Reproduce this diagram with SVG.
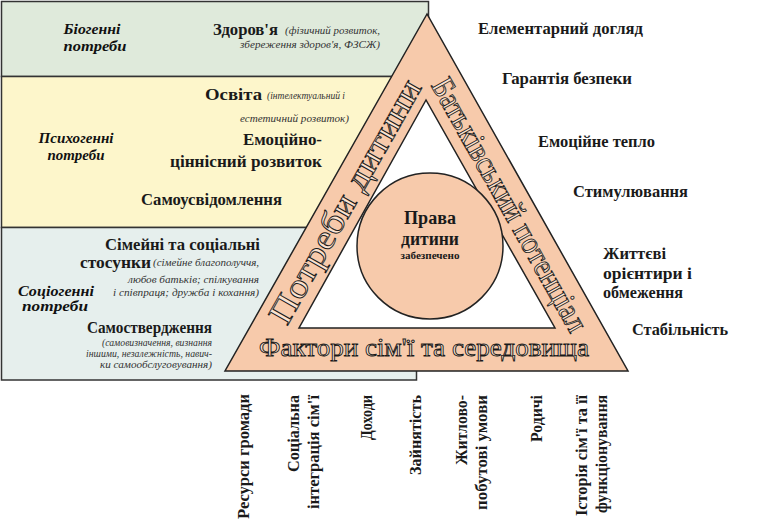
<svg xmlns="http://www.w3.org/2000/svg" width="762" height="527" viewBox="0 0 762 527" font-family="'Liberation Serif', 'Times New Roman', Tinos, 'DejaVu Serif', serif">
<style>
.panel{stroke:#333;stroke-width:1.5}
.b{font-weight:bold;fill:#1a1a1a}
.it{font-style:italic;fill:#333}
.hdr{font-weight:bold;font-style:italic;font-size:15px;fill:#111;text-anchor:middle}
.hollow{fill:#fbe3d1;stroke:#1a1a1a;stroke-width:0.9;text-anchor:middle}
.tri{fill:#f7caab;stroke:#222;stroke-width:1.5}
.r{font-size:16px}
.v{font-size:16px;text-anchor:end}
</style>
<rect width="762" height="527" fill="#fff"/>
<g id="panels">
<rect class="panel" x="1.5" y="1.5" width="427" height="75" fill="#dfeadb"/>
<rect class="panel" x="1.5" y="76.5" width="427" height="151" fill="#fdf6cb"/>
<rect class="panel" x="1.5" y="227.5" width="415" height="152.5" fill="#e6efed"/>
</g>
<g id="bio">
<text class="hdr" x="92" y="34" textLength="57" lengthAdjust="spacingAndGlyphs">Біогенні</text>
<text class="hdr" x="95" y="51" textLength="63" lengthAdjust="spacingAndGlyphs">потреби</text>
<text class="b" x="213" y="35" font-size="17" textLength="65" lengthAdjust="spacingAndGlyphs">Здоров'я</text>
<text class="it" x="285" y="34" font-size="11" textLength="95" lengthAdjust="spacingAndGlyphs">(фізичний розвиток,</text>
<text class="it" x="380" y="48" font-size="11" text-anchor="end" textLength="140" lengthAdjust="spacingAndGlyphs">збереження здоров'я, ФЗСЖ)</text>
</g>
<g id="psy">
<text class="hdr" x="76" y="143" textLength="75" lengthAdjust="spacingAndGlyphs">Психогенні</text>
<text class="hdr" x="76" y="160" textLength="57" lengthAdjust="spacingAndGlyphs">потреби</text>
<text class="b" x="205" y="100" font-size="17" textLength="57" lengthAdjust="spacingAndGlyphs">Освіта</text>
<text class="it" x="267" y="99" font-size="11" textLength="78" lengthAdjust="spacingAndGlyphs">(інтелектуальний і</text>
<text class="it" x="349" y="122" font-size="11" text-anchor="end" textLength="109" lengthAdjust="spacingAndGlyphs">естетичний розвиток)</text>
<text class="b" x="322" y="145" font-size="17" text-anchor="end" textLength="79" lengthAdjust="spacingAndGlyphs">Емоційно-</text>
<text class="b" x="322" y="167" font-size="17" text-anchor="end" textLength="152" lengthAdjust="spacingAndGlyphs">ціннісний розвиток</text>
<text class="b" x="141" y="205" font-size="17" textLength="141" lengthAdjust="spacingAndGlyphs">Самоусвідомлення</text>
</g>
<g id="soc">
<text class="hdr" x="56" y="296" textLength="76" lengthAdjust="spacingAndGlyphs">Соціогенні</text>
<text class="hdr" x="55" y="311" textLength="66" lengthAdjust="spacingAndGlyphs">потреби</text>
<text class="b" x="260" y="250" font-size="17" text-anchor="end" textLength="155" lengthAdjust="spacingAndGlyphs">Сімейні та соціальні</text>
<text class="b" x="80" y="268" font-size="17" textLength="71" lengthAdjust="spacingAndGlyphs">стосунки</text>
<text class="it" x="259" y="266" font-size="11" text-anchor="end" textLength="106" lengthAdjust="spacingAndGlyphs">(сімейне благополуччя,</text>
<text class="it" x="259" y="283" font-size="11" text-anchor="end" textLength="131" lengthAdjust="spacingAndGlyphs">любов батьків; спілкування</text>
<text class="it" x="259" y="296" font-size="11" text-anchor="end" textLength="146" lengthAdjust="spacingAndGlyphs">і співпраця; дружба і кохання)</text>
<text class="b" x="87" y="333" font-size="17" textLength="125" lengthAdjust="spacingAndGlyphs">Самоствердження</text>
<text class="it" x="212" y="346" font-size="10" text-anchor="end" textLength="110" lengthAdjust="spacingAndGlyphs">(самовизначення, визнання</text>
<text class="it" x="212" y="357" font-size="10" text-anchor="end" textLength="126" lengthAdjust="spacingAndGlyphs">іншими, незалежність, навич-</text>
<text class="it" x="212" y="368" font-size="10" text-anchor="end" textLength="112" lengthAdjust="spacingAndGlyphs">ки самообслуговування)</text>
</g>
<g id="triangle">
<polygon class="tri" points="427,14 225,371 628,371"/>
<polygon points="426,100 299,328 555,328" fill="#fff" stroke="#222" stroke-width="1.5"/>
<text class="hollow" transform="translate(354.6,206.9) rotate(-60.5)" font-size="34" textLength="275" lengthAdjust="spacingAndGlyphs">Потреби дитини</text>
<text class="hollow" transform="translate(500.6,209.9) rotate(60.6)" font-size="32" textLength="286" lengthAdjust="spacingAndGlyphs">Батьківський потенціал</text>
<text class="hollow" x="424" y="356" font-size="26" textLength="330" lengthAdjust="spacingAndGlyphs">Фактори сім'ї та середовища</text>
</g>
<g id="rights">
<circle cx="430" cy="246" r="73" fill="#f7caab" stroke="#222" stroke-width="1.5"/>
<text class="b" x="430" y="224" font-size="18" text-anchor="middle" textLength="52" lengthAdjust="spacingAndGlyphs">Права</text>
<text class="b" x="430" y="245" font-size="18" text-anchor="middle" textLength="58" lengthAdjust="spacingAndGlyphs">дитини</text>
<text class="b" x="430" y="259" font-size="11" text-anchor="middle" textLength="59" lengthAdjust="spacingAndGlyphs">забезпечено</text>
</g>
<g id="parental">
<text class="b r" x="478" y="34" textLength="165" lengthAdjust="spacingAndGlyphs">Елементарний догляд</text>
<text class="b r" x="502" y="84" textLength="130" lengthAdjust="spacingAndGlyphs">Гарантія безпеки</text>
<text class="b r" x="538" y="147" textLength="117" lengthAdjust="spacingAndGlyphs">Емоційне тепло</text>
<text class="b r" x="573" y="197" textLength="115" lengthAdjust="spacingAndGlyphs">Стимулювання</text>
<text class="b r" x="603" y="259" textLength="63" lengthAdjust="spacingAndGlyphs">Життєві</text>
<text class="b r" x="603" y="279" textLength="89" lengthAdjust="spacingAndGlyphs">орієнтири і</text>
<text class="b r" x="603" y="298" textLength="80" lengthAdjust="spacingAndGlyphs">обмеження</text>
<text class="b r" x="632" y="335" textLength="96" lengthAdjust="spacingAndGlyphs">Стабільність</text>
</g>
<g id="factors">
<text class="b v" transform="translate(249,394) rotate(-90)" textLength="125" lengthAdjust="spacingAndGlyphs">Ресурси громади</text>
<text class="b v" transform="translate(299,395) rotate(-90)" textLength="77" lengthAdjust="spacingAndGlyphs">Соціальна</text>
<text class="b v" transform="translate(319,395) rotate(-90)" textLength="114" lengthAdjust="spacingAndGlyphs">інтеграція сім'ї</text>
<text class="b v" transform="translate(372,395) rotate(-90)" textLength="45" lengthAdjust="spacingAndGlyphs">Доходи</text>
<text class="b v" transform="translate(421,395) rotate(-90)" textLength="80" lengthAdjust="spacingAndGlyphs">Зайнятість</text>
<text class="b v" transform="translate(467,395) rotate(-90)" textLength="70" lengthAdjust="spacingAndGlyphs">Житлово-</text>
<text class="b v" transform="translate(487,395) rotate(-90)" textLength="115" lengthAdjust="spacingAndGlyphs">побутові умови</text>
<text class="b v" transform="translate(542,395) rotate(-90)" textLength="47" lengthAdjust="spacingAndGlyphs">Родичі</text>
<text class="b v" transform="translate(587,395) rotate(-90)" textLength="121" lengthAdjust="spacingAndGlyphs">Історія сім'ї та її</text>
<text class="b v" transform="translate(607,395) rotate(-90)" textLength="118" lengthAdjust="spacingAndGlyphs">функціонування</text>
</g>
<g id="connectors"></g>
</svg>
